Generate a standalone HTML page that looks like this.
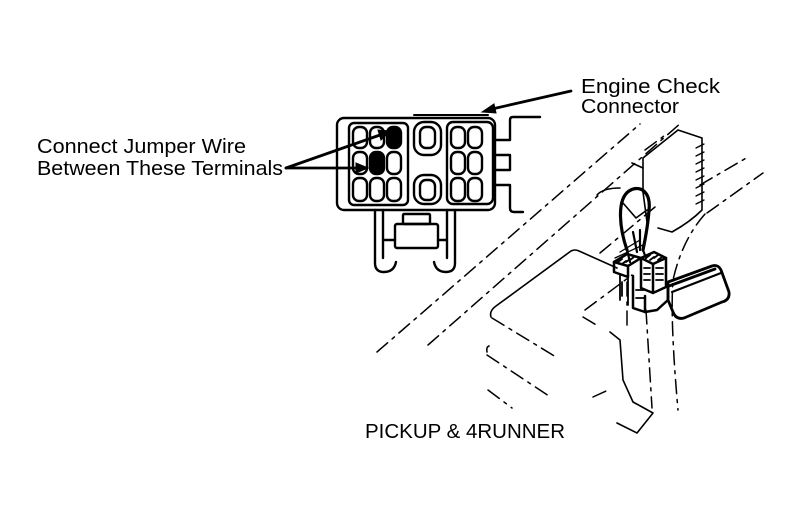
<!DOCTYPE html>
<html><head><meta charset="utf-8"><style>
html,body{margin:0;padding:0;background:#fff;}
svg{display:block;}
text{font-family:"Liberation Sans",Arial,sans-serif;fill:#000;}
</style></head><body>
<svg width="801" height="513" viewBox="0 0 801 513" xmlns="http://www.w3.org/2000/svg">
<rect width="801" height="513" fill="#fff"/>

<!-- Labels -->
<text x="581" y="93" font-size="20" textLength="139" lengthAdjust="spacingAndGlyphs">Engine Check</text>
<text x="581" y="113" font-size="20" textLength="98" lengthAdjust="spacingAndGlyphs">Connector</text>
<text x="37" y="153" font-size="20.5" textLength="209" lengthAdjust="spacingAndGlyphs">Connect Jumper Wire</text>
<text x="37" y="175" font-size="20.5" textLength="246" lengthAdjust="spacingAndGlyphs">Between These Terminals</text>
<text x="365" y="438" font-size="20" textLength="200" lengthAdjust="spacingAndGlyphs">PICKUP &amp; 4RUNNER</text>

<!-- Arrows -->
<g stroke="#000" stroke-width="2.8" fill="#000" stroke-linecap="round">
  <line x1="571" y1="91" x2="492" y2="109"/>
  <polygon points="482,112 494,104 496,113" stroke-width="1"/>
  <line x1="286" y1="168" x2="380" y2="135"/>
  <polygon points="390,131 378,130 381,140" stroke-width="1"/>
  <line x1="286" y1="168" x2="357" y2="168"/>
  <polygon points="368,168 356,163 356,173" stroke-width="1"/>
</g>

<!-- Engine check connector -->
<g fill="none" stroke="#000" stroke-width="2.4" stroke-linejoin="round" stroke-linecap="round">
  <rect x="337" y="118" width="158" height="92" rx="7"/>
  <path d="M414,115 H488" stroke-width="2"/>
  <rect x="349" y="123" width="59" height="82" rx="5"/>
  <!-- left terminals -->
  <rect x="353" y="127" width="14" height="21" rx="6"/>
  <rect x="370" y="127" width="14" height="21" rx="6"/>
  <rect x="387" y="127" width="14" height="21" rx="6" fill="#000"/>
  <rect x="353" y="152" width="14" height="22" rx="6"/>
  <rect x="370" y="152" width="14" height="22" rx="6" fill="#000"/>
  <rect x="387" y="152" width="14" height="22" rx="6"/>
  <rect x="353" y="178" width="14" height="23" rx="6"/>
  <rect x="370" y="178" width="14" height="23" rx="6"/>
  <rect x="387" y="178" width="14" height="23" rx="6"/>
  <!-- middle cavities -->
  <rect x="414" y="122" width="27" height="33" rx="10"/>
  <rect x="420" y="127" width="15" height="21" rx="6"/>
  <rect x="414" y="175" width="27" height="29" rx="10"/>
  <rect x="420" y="180" width="15" height="20" rx="6"/>
  <!-- right block -->
  <rect x="447" y="122" width="46" height="82" rx="6"/>
  <rect x="451" y="127" width="14" height="21" rx="6"/>
  <rect x="468" y="127" width="14" height="21" rx="6"/>
  <rect x="451" y="152" width="14" height="22" rx="6"/>
  <rect x="468" y="152" width="14" height="22" rx="6"/>
  <rect x="451" y="178" width="14" height="23" rx="6"/>
  <rect x="468" y="178" width="14" height="23" rx="6"/>
  <!-- side tabs / bracket -->
  <path d="M540,117 H513 Q510,117 510,120 V140 H495"/>
  <path d="M495,155 H510 V170 H495"/>
  <path d="M495,185 H510 V208 Q510,212 514,212 H523"/>
  <!-- legs -->
  <path d="M375,210 V263 Q375,272 384,272 Q394,272 396,262"/>
  <path d="M383,210 V258"/>
  <path d="M455,210 V263 Q455,272 446,272 Q436,272 434,262"/>
  <path d="M447,210 V258"/>
  <path d="M383,240 H395 M438,240 H447"/>
  <rect x="395" y="224" width="43" height="24" rx="2"/>
  <rect x="403" y="214" width="27" height="10" rx="1"/>
</g>

<!-- Engine bay dashed lines -->
<g fill="none" stroke="#000" stroke-width="1.5" stroke-dasharray="14 6 3 6" stroke-linecap="round">
  <line x1="377" y1="352" x2="640" y2="124"/>
  <line x1="428" y1="345" x2="682" y2="122"/>
  <line x1="600" y1="253" x2="655" y2="207"/>
  <line x1="585" y1="310" x2="632" y2="275"/>
  <line x1="707" y1="213" x2="763" y2="173"/>
  <line x1="700" y1="185" x2="748" y2="157"/>
  <path d="M705,214 Q682,240 673,280 Q670,320 678,410"/>
  <line x1="492" y1="318" x2="556" y2="357"/>
  <line x1="487" y1="355" x2="552" y2="398"/>
  <line x1="488" y1="390" x2="512" y2="408"/>
  <line x1="627" y1="282" x2="627" y2="325"/>
  <line x1="646" y1="310" x2="652" y2="408"/>
  <line x1="583" y1="317" x2="598" y2="326"/>
  <line x1="593" y1="397" x2="606" y2="391"/>
  <line x1="645" y1="150" x2="668" y2="133"/>
</g>
<g fill="none" stroke="#000" stroke-width="1.6" stroke-linejoin="round" stroke-linecap="round">
  <!-- plateau -->
  <path d="M491,317 Q489,311 496,306 L571,251 Q575,249 579,251 L617,268"/>
  <path d="M487,352 Q486,347 489,346"/>
  <!-- lower bracket -->
  <path d="M610,332 L620,340 L623,380 L633,402 L653,413 L637,433 L617,423"/>
  <!-- ECU box -->
  <path d="M643,192 V158 L678,130 L702,138 V210 Q690,222 672,232 L658,228"/>
  <path d="M632,163 L643,168"/>
  <path d="M597,195 Q603,188 620,188"/>
  <path d="M643,192 L647,222"/>
  <path d="M696,148 l8,-4 M696,156 l8,-4 M696,164 l8,-4 M696,172 l8,-4 M696,180 l8,-4 M696,188 l8,-4 M696,196 l8,-4 M696,204 l8,-4" stroke-width="1.3"/>
</g>

<!-- Jumper loop -->
<g fill="none" stroke="#000" stroke-linejoin="round" stroke-linecap="round">
  <path d="M627,250 C620,230 616,200 629,191 C640,184 651,192 649,210 C648,226 645,240 643,250" stroke-width="3.2"/>
  <path d="M623,203 L636,218 L647,210" stroke-width="1.6"/>
  <path d="M627,250 L630,262 M643,250 L646,258 M633,232 L637,252 M640,230 L640,250" stroke-width="2.2"/>
  <path d="M620,252 L640,240 M615,258 L645,244" stroke-width="1.3"/>
</g>

<!-- Diagnosis connector -->
<g fill="none" stroke="#000" stroke-width="2.5" stroke-linejoin="round" stroke-linecap="round">
  <path d="M614,262 L627,254 L641,258 L628,266 Z"/>
  <path d="M614,262 V272 L628,277 V266"/>
  <path d="M641,258 L654,252 L666,258 L653,264 Z"/>
  <path d="M641,258 V288 L653,293 V264 M666,258 V287 L653,293"/>
  <path d="M633,276 V308 L645,312 L657,310 L668,300 V284"/>
  <path d="M645,296 V312"/>
  <path d="M620,275 V300 M628,277 V305" stroke-width="1.8"/>
  <!-- grommet -->
  <path d="M668,282 L712,266 Q718,264 721,270 L729,292 Q730,300 722,302 L684,318 Q676,320 673,312 L668,300 Z" stroke-width="2.8"/>
  <path d="M672,292 L721,273" stroke-width="2.2"/>
  <path d="M669,286 L715,269" stroke-width="2.8"/>
</g>
<g stroke="#000" stroke-width="1.8" stroke-linecap="round">
  <path d="M618,262 l4,-3 M622,264 l4,-3 M626,262 l4,-3 M630,260 l4,-3 M646,258 l4,-3 M650,260 l4,-3 M654,258 l4,-3 M658,260 l4,-3"/>
  <path d="M644,268 h6 M644,274 h6 M644,280 h6 M656,268 h7 M656,274 h7 M656,280 h7"/>
  <path d="M636,290 h8 M636,298 h8 M622,282 v14"/>
</g>
</svg>
</body></html>
